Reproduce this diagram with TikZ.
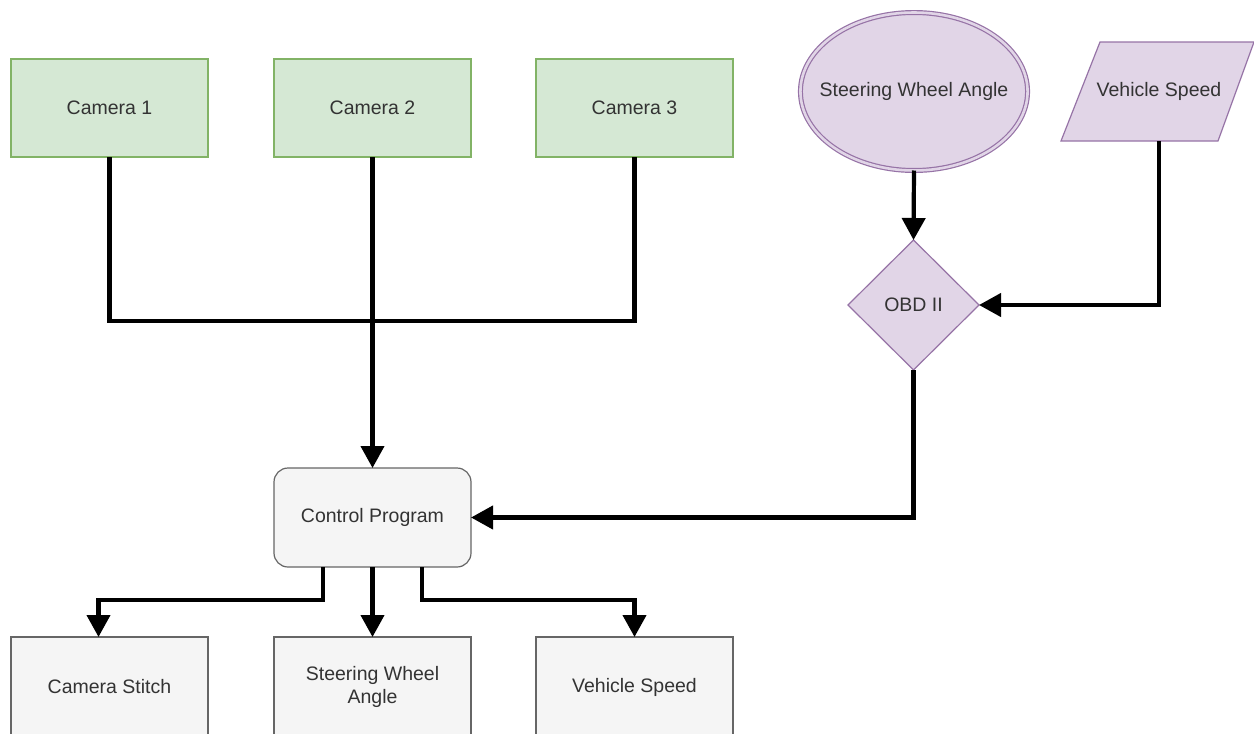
\documentclass[tikz,border=0pt]{standalone}
\usepackage{fontspec}
\setmainfont{Liberation Sans}
\usetikzlibrary{shapes.geometric,arrows.meta}
\definecolor{gfill}{HTML}{D5E8D4}
\definecolor{gline}{HTML}{82B366}
\definecolor{pfill}{HTML}{E1D5E7}
\definecolor{pline}{HTML}{9673A6}
\definecolor{wfill}{HTML}{F5F5F5}
\definecolor{wline}{HTML}{666666}
\definecolor{txt}{HTML}{333333}
\tikzset{
  base/.style={inner sep=0pt, outer sep=0pt, text=txt, font=\fontsize{19.5}{23}\selectfont, align=center, line width=1.2pt},
  cam/.style={base, rectangle, draw=gline, fill=gfill, minimum width=197pt, minimum height=98pt},
  outbox/.style={base, rectangle, draw=wline, fill=wfill, minimum width=197pt, minimum height=100pt, anchor=north},
  ctrl/.style={base, rectangle, rounded corners=14pt, draw=wline, fill=wfill, minimum width=197pt, minimum height=99pt},
  oval/.style={base, ellipse, draw=pline, fill=pfill, double=pfill, double distance=2.6pt, inner xsep=-14pt, minimum width=226pt, minimum height=158pt},
  dia/.style={base, diamond, draw=pline, fill=pfill, minimum width=131pt, minimum height=130pt},
  link/.style={line width=4.2pt, line join=miter, draw=black},
  arr/.style={link, -{Triangle[length=22pt,width=23pt]}}
}
\begin{document}
\begin{tikzpicture}[x=1pt,y=-1pt]
\useasboundingbox (0,0) rectangle (1254,734);
% cameras
\node[cam] (c1) at (109.5,108) {Camera 1};
\node[cam] (c2) at (372.5,108) {Camera 2};
\node[cam] (c3) at (634.5,108) {Camera 3};
% purple inputs
\node[oval] (swa) at (914,91.5) {Steering Wheel Angle};
\fill[pfill] (1100,42) -- (1254,42) -- (1218,141) -- (1061,141) -- cycle;
\draw[pline, line width=1.2pt] (1100,42) -- (1254,42) -- (1218,141) -- (1061,141) -- cycle;
\node[base, minimum width=120pt, minimum height=99pt] (vs) at (1159,91.5) {Vehicle Speed};
\node[dia] (obd) at (913.5,305) {OBD II};
% control program
\node[ctrl] (cp) at (372.5,517.5) {Control Program};
% outputs
\node[outbox] (o1) at (109.5,637) {Camera Stitch};
\node[outbox] (o2) at (372.5,637) {Steering Wheel\\Angle};
\node[outbox] (o3) at (634.5,637) {Vehicle Speed};
% connectors
\coordinate (j) at (372.5,321);
\draw[link] (c1.south) |- (j) -| (c3.south);
\draw[arr] (c2.south) -- (cp.north);
\draw[arr] (swa.south) -- (obd.north);
\draw[arr] (vs.south) |- (obd.east);
\draw[arr] (obd.south) |- (cp.east);
\draw[arr] ([xshift=49pt]cp.south west) -- ++(0,33) -| ([xshift=-11pt]o1.north);
\draw[arr] (cp.south) -- (o2.north);
\draw[arr] ([xshift=-49pt]cp.south east) -- ++(0,33) -| (o3.north);
\end{tikzpicture}
\end{document}
